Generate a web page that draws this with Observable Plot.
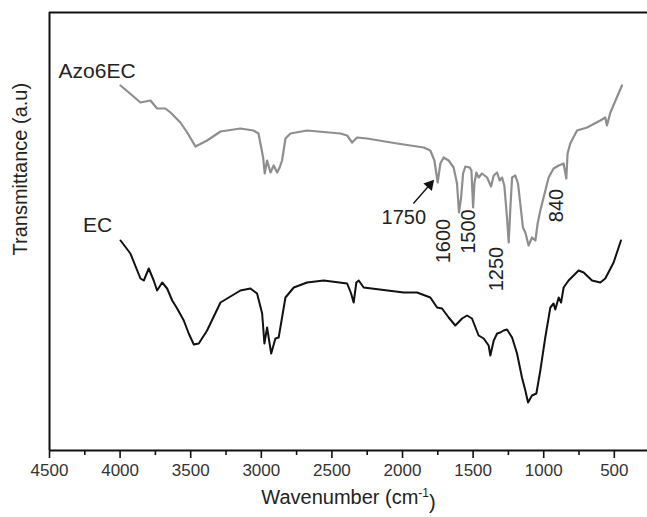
<!DOCTYPE html>
<html>
<head>
<meta charset="utf-8">
<script src="https://cdn.jsdelivr.net/npm/d3@7"></script>
<script src="https://cdn.jsdelivr.net/npm/@observablehq/plot@0.6"></script>
<style>
  html, body { margin: 0; padding: 0; background: white; }
  #chart svg { display: block; }
</style>
</head>
<body>
<div id="chart"></div>
<script>
// ---- Data (transmittance in arbitrary units) ----
const azoWavenumber = [3997,3930,3856,3785,3738,3679,3643,3608,3573,3525,3466,3384,3289,3148,3056,3020,2987,2976,2959,2935,2912,2888,2870,2853,2829,2794,2676,2440,2392,2357,2322,2251,2038,1850,1803,1774,1751,1732,1709,1673,1638,1614,1600,1585,1571,1555,1524,1512,1500,1491,1477,1461,1437,1401,1373,1354,1330,1312,1295,1279,1260,1248,1236,1224,1201,1182,1166,1147,1130,1107,1083,1059,1043,1024,1001,965,930,894,859,840,831,812,764,693,599,564,552,528,446];
const azoTransmittance = [365,357,348,350,342,342,338,333,328,318,304,310,319,322,320,317,293,277,290,278,285,278,283,290,312,317,320,317,315,308,313,312,307,303,300,290,268,287,293,290,283,267,238,253,277,284,283,280,243,267,278,273,277,273,264,275,278,270,273,265,233,208,243,273,275,267,247,223,218,205,213,210,227,240,253,273,282,285,287,272,297,307,320,323,330,333,325,338,365];

const ecWavenumber = [3997,3927,3856,3832,3797,3762,3738,3702,3667,3631,3596,3549,3514,3478,3443,3384,3289,3148,3077,3030,2994,2978,2959,2930,2900,2877,2853,2829,2770,2676,2558,2392,2364,2346,2327,2310,2275,1992,1897,1803,1755,1720,1673,1626,1578,1543,1508,1461,1425,1390,1378,1354,1330,1307,1284,1260,1224,1189,1154,1130,1111,1083,1052,1024,989,953,930,918,894,877,859,824,753,717,658,599,564,505,453];
const ecTransmittance = [210,197,172,170,182,170,160,168,162,150,142,130,117,106,107,120,148,160,162,157,137,107,123,97,112,113,133,153,163,168,170,167,157,148,168,170,163,158,158,153,143,142,133,125,132,135,132,115,112,105,95,110,117,118,120,121,113,97,73,60,48,55,57,80,113,143,147,141,153,148,163,170,180,178,170,168,172,188,210];

const seriesNames = ["Azo6EC", "EC"];
const peakWavenumbers = [1750, 1600, 1500, 1250, 840];
const peakLabels = ["1750", "1600", "1500", "1250", "840"];
const majorTicks = [4500, 4000, 3500, 3000, 2500, 2000, 1500, 1000, 500];
const minorTicks = [4250, 3750, 3250, 2750, 2250, 1750, 1250, 750];
const xLabel = "Wavenumber (cm-1)";
const yLabel = "Transmittance (a.u)";

// ---- Build tables ----
const azo = azoWavenumber.map((w, i) => ({w, t: azoTransmittance[i]}));
const ec = ecWavenumber.map((w, i) => ({w, t: ecTransmittance[i]}));

// label layout (screen offsets / a.u. heights), kept separate from the data
const peakLayout = [
  {dx: -34, y: 232.5, rotate: 0},
  {dx: -15, y: 209.5, rotate: -90},
  {dx: -5,  y: 219,   rotate: -90},
  {dx: -11.5, y: 181.5, rotate: -90},
  {dx: -9.5, y: 245,  rotate: -90}
];
const peaks = peakWavenumbers.map((w, i) => ({w, label: peakLabels[i], ...peakLayout[i]}));

const font = "'Liberation Sans', Arial, Helvetica, sans-serif";

const chart = Plot.plot({
  width: 647,
  height: 517,
  marginLeft: 49,
  marginRight: 0,
  marginTop: 12,
  marginBottom: 67,
  style: {fontFamily: font, fontSize: "17px", color: "#333", background: "white"},
  x: {domain: [4500, 265]},
  y: {domain: [0, 438], axis: null},
  marks: [
    // frame (left, top, bottom)
    Plot.ruleX([4500], {stroke: "#111", strokeWidth: 2}),
    Plot.ruleY([438], {stroke: "#111", strokeWidth: 2}),
    Plot.ruleY([0], {stroke: "#111", strokeWidth: 2}),
    Plot.axisX({ticks: majorTicks, tickSize: 8, tickPadding: 5, stroke: "#111", strokeWidth: 1.6, fontSize: 17, label: null, tickFormat: d => String(d)}),
    Plot.axisX({ticks: minorTicks, tickSize: 5, stroke: "#111", strokeWidth: 1.6, label: null, tickFormat: () => ""}),
    // spectra
    Plot.line(azo, {x: "w", y: "t", stroke: "#8e8e8e", strokeWidth: 2.2, curve: "linear"}),
    Plot.line(ec, {x: "w", y: "t", stroke: "#111", strokeWidth: 2, curve: "linear"}),
    // series labels
    Plot.text([seriesNames[0]], {x: 4436, y: 379.5, text: d => d, textAnchor: "start", fontSize: 21, fill: "#222"}),
    Plot.text([seriesNames[1]], {x: 4160, y: 225.5, text: d => d, textAnchor: "middle", fontSize: 21, fill: "#222"}),
    // peak labels
    ...peaks.map(p => Plot.text([p], {x: "w", y: "y", text: "label", rotate: p.rotate, dx: p.dx, textAnchor: "middle", lineAnchor: "middle", fontSize: 20, fill: "#222"})),
    // arrow for 1750
    Plot.link([{x1: 1923, y1: 247, x2: 1807, y2: 265.7}], {x1: "x1", y1: "y1", x2: "x2", y2: "y2", stroke: "#111", strokeWidth: 1.3}),
    Plot.dot([{x: 1807, y: 265.7}], {x: "x", y: "y", symbol: "triangle", r: 4.2, fill: "#111", stroke: "none", rotate: 41}),
    // axis titles
    Plot.text([xLabel], {frameAnchor: "bottom", text: d => d, dy: 47, fontSize: 20, fill: "#222", lineAnchor: "middle"}),
    Plot.text([yLabel], {frameAnchor: "left", text: d => d, rotate: -90, dx: -29, dy: 24, fontSize: 20, fill: "#222", lineAnchor: "middle"})
  ]
});

document.getElementById("chart").appendChild(chart);

// superscript for the unit
d3.select(chart).selectAll("text").filter(function() { return this.textContent === xLabel; }).each(function() {
  const t = d3.select(this);
  t.text(null);
  t.append("tspan").text("Wavenumber (cm");
  t.append("tspan").attr("font-size", 12).attr("dy", "-0.6em").text("-1");
  t.append("tspan").attr("dy", "0.6em").text(")");
});
</script>
</body>
</html>
